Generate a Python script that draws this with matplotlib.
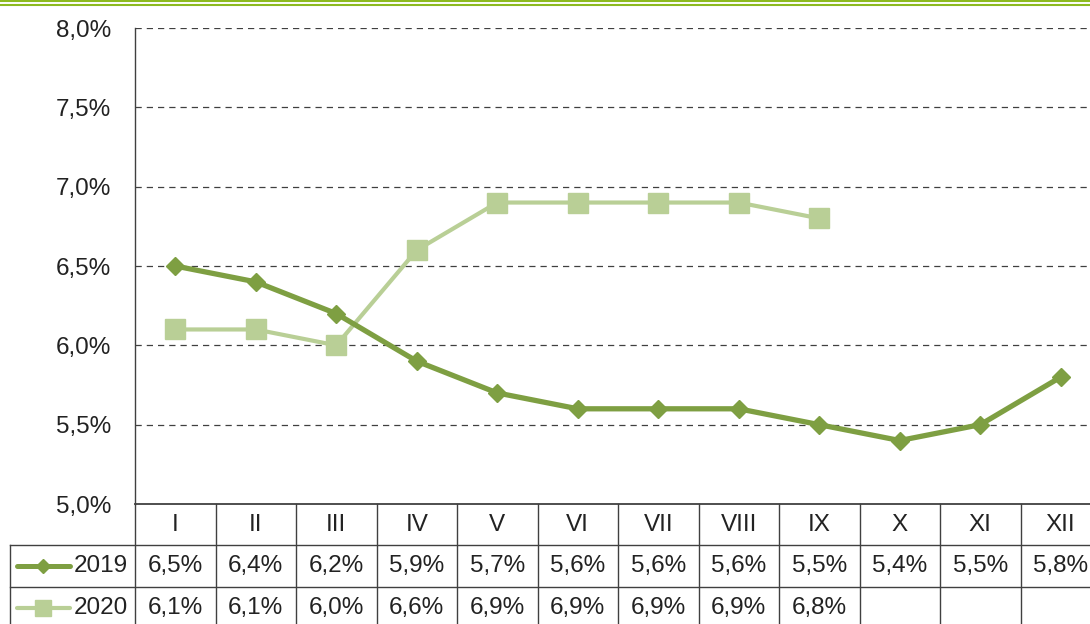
import matplotlib
matplotlib.use("Agg")
import matplotlib.pyplot as plt
import matplotlib.transforms as mtransforms
from matplotlib.lines import Line2D

months = ["I", "II", "III", "IV", "V", "VI", "VII", "VIII", "IX", "X", "XI", "XII"]
rate_2019 = [6.5, 6.4, 6.2, 5.9, 5.7, 5.6, 5.6, 5.6, 5.5, 5.4, 5.5, 5.8]
rate_2020 = [6.1, 6.1, 6.0, 6.6, 6.9, 6.9, 6.9, 6.9, 6.8]
yticks = [5.0, 5.5, 6.0, 6.5, 7.0, 7.5, 8.0]

c2019 = "#7e9f42"
c2020 = "#b9cf96"
grid_c = "#404040"
fs = 17.5

W, H = 1090, 624
fig = plt.figure(figsize=(W / 100, H / 100), dpi=100)
plt.rcParams['font.family'] = ['Liberation Sans', 'DejaVu Sans']

# plot area in pixels: x 135..1101, y 28..504 (from top)
x0, x1 = 135, 1101
ytop, ybot = 28, 504
ax = fig.add_axes([x0 / W, 1 - ybot / H, (x1 - x0) / W, (ybot - ytop) / H])
ax.set_xlim(0, 12)
ax.set_ylim(5.0, 8.0)

xs = [i + 0.5 for i in range(12)]
ax.plot(xs, rate_2019, color=c2019, lw=3.8, marker="D", ms=9,
        mec=c2019, mfc=c2019, zorder=4, clip_on=False)
ax.plot(xs[:len(rate_2020)], rate_2020, color=c2020, lw=3.0, marker="s", ms=14,
        mec=c2020, mfc=c2020, zorder=3, clip_on=False)

for v in yticks[1:]:
    ax.axhline(v, color=grid_c, lw=0.9, ls=(0, (5, 4)), zorder=1)

ax.set_yticks(yticks)
ax.set_yticklabels([f"{v:.1f}%".replace(".", ",") for v in yticks], fontsize=fs, color="#222222")
ax.tick_params(axis="y", length=0, pad=17)
ax.set_xticks([])
for s in ["top", "right"]:
    ax.spines[s].set_visible(False)
ax.spines["left"].set_color(grid_c)
ax.spines["bottom"].set_color(grid_c)
ax.spines["left"].set_linewidth(1.0)
ax.spines["bottom"].set_linewidth(1.3)

# table below, x in data units, y in pixels from top
trans = mtransforms.blended_transform_factory(ax.transData, fig.transFigure)
figtr = fig.transFigure

def fy(py):
    return 1 - py / H

lc = "#404040"
# horizontal lines
fig.add_artist(Line2D([10 / W, x1 / W], [fy(545), fy(545)], color=lc, lw=1.0, transform=figtr))
fig.add_artist(Line2D([10 / W, x1 / W], [fy(587), fy(587)], color=lc, lw=1.0, transform=figtr))
# vertical lines
fig.add_artist(Line2D([10 / W, 10 / W], [fy(545), fy(640)], color=lc, lw=1.0, transform=figtr))
fig.add_artist(Line2D([x0 / W, x0 / W], [fy(504), fy(640)], color=lc, lw=1.0, transform=figtr))
for k in range(1, 13):
    fig.add_artist(Line2D([k, k], [fy(504), fy(640)], color=lc, lw=1.0, transform=trans))

txt_kw = dict(fontsize=fs, color="#222222", ha="center", va="center")
for i, m in enumerate(months):
    fig.text(xs[i], fy(525), m, transform=trans, **txt_kw)
for i, v in enumerate(rate_2019):
    fig.text(xs[i], fy(566), f"{v:.1f}%".replace(".", ","), transform=trans, **txt_kw)
for i, v in enumerate(rate_2020):
    fig.text(xs[i], fy(608), f"{v:.1f}%".replace(".", ","), transform=trans, **txt_kw)

# legend keys
for py, col, mk, ms, lw, lab in [(566, c2019, "D", 7, 3.6, "2019"), (608, c2020, "s", 12, 3.0, "2020")]:
    fig.add_artist(Line2D([17 / W, 70 / W], [fy(py), fy(py)], color=col, lw=lw,
                          solid_capstyle="round", transform=figtr))
    fig.add_artist(Line2D([43 / W], [fy(py)], color=col, marker=mk, ms=ms, lw=0, transform=figtr))
    fig.text(128 / W, fy(py), lab, fontsize=fs, color="#222222", ha="right", va="center")

# green rules at top
fig.add_artist(Line2D([0, 1], [fy(1), fy(1)], color="#8dba1f", lw=1.5, transform=figtr))
fig.add_artist(Line2D([0, 1], [fy(4.5), fy(4.5)], color="#8dba1f", lw=1.5, transform=figtr))

fig.savefig("out.png", dpi=100)
